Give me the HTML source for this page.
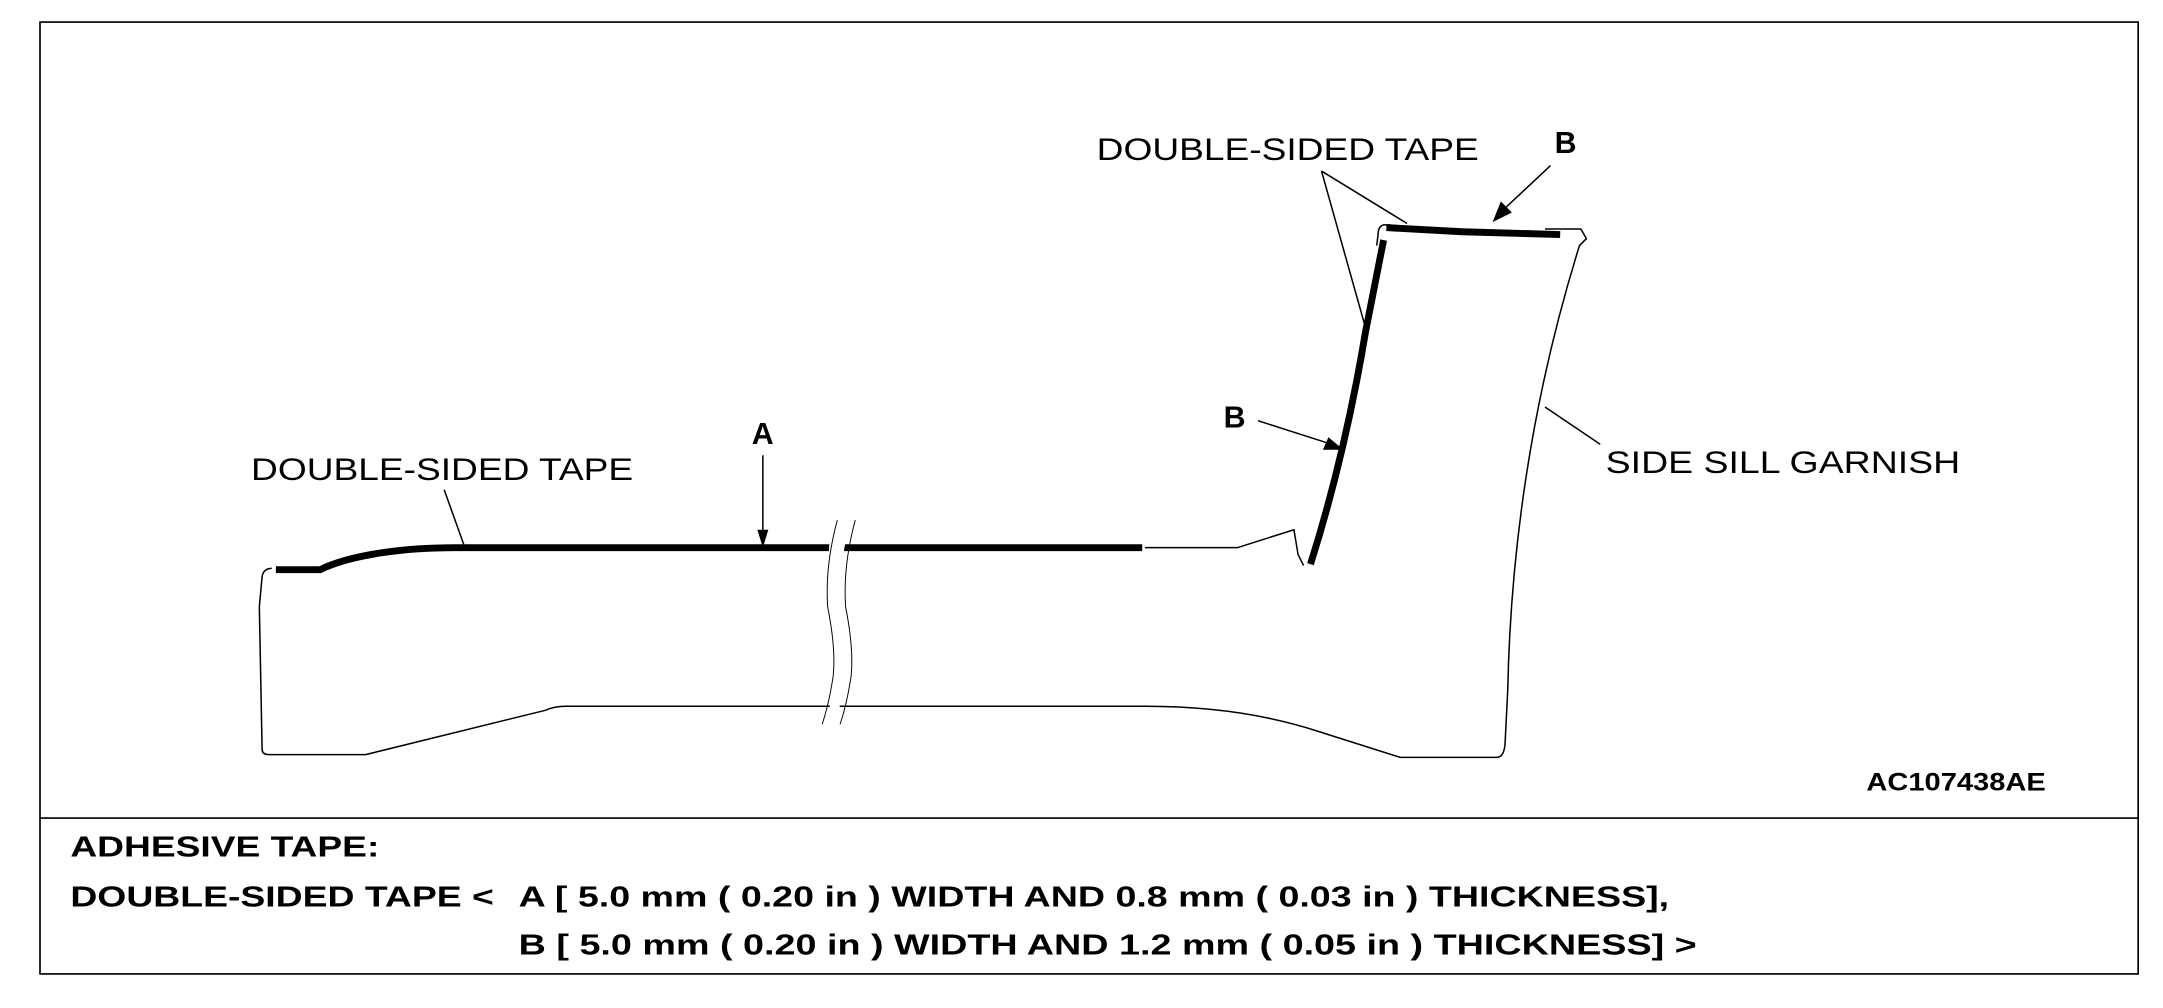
<!DOCTYPE html>
<html><head><meta charset="utf-8"><style>
html,body{margin:0;padding:0;background:#fff;}
svg{display:block;}
text{font-family:"Liberation Sans",Arial,sans-serif;fill:#000;}
</style></head><body>
<svg width="2163" height="1008" viewBox="0 0 1568 730.7" preserveAspectRatio="none" xmlns="http://www.w3.org/2000/svg">
<rect x="29" y="16" width="1521" height="690" fill="none" stroke="#000" stroke-width="1.2"/>
<line x1="29" y1="593" x2="1550" y2="593" stroke="#000" stroke-width="1.2"/>

<g fill="none" stroke="#000" stroke-width="1.1" stroke-linejoin="round">
<path d="M197,412 Q191,412 190,418 L188,440 L190,543 Q190,547 195,547 L265,547 L395,515 Q402,512 410,512 L830,512 Q900,512 955,530 L1015,549 L1085,549 Q1090,549 1091,540 L1093,500 C1095,400 1110,290 1145,178 L1150,173 L1146,166 L1120,166"/>
<path d="M1008,163 L1003,163 Q999,164 999,170 L998,178"/>
<path d="M830,397 L897,397 L938,384 L941,402 L945,410"/>
</g>

<path d="M200,413 L232,413 C250,404 285,397 330,397 L828,397" fill="none" stroke="#000" stroke-width="5"/>
<path d="M1005,165 L1060,168 L1131,170" fill="none" stroke="#000" stroke-width="5"/>
<path d="M1003,174 L990,240 Q975,330 950,409" fill="none" stroke="#000" stroke-width="5"/>

<!-- break -->
<path d="M603,374 L618,374 Q607,410 609,440 Q615,470 613,490 Q610,510 605,525 L598,525 Q603,510 605,490 Q607,470 601,440 Q599,410 603,374 Z" fill="#fff"/>
<g fill="none" stroke="#000" stroke-width="0.7">
<path d="M607,377 Q598,410 600,440 Q606,470 604,490 Q601,510 596,525"/>
<path d="M620,377 Q611,410 613,440 Q619,470 617,490 Q614,510 609,525"/>
</g>

<g fill="none" stroke="#000" stroke-width="1.1">
<line x1="322" y1="355" x2="337" y2="397"/>
<line x1="553" y1="330" x2="553" y2="385"/>
<line x1="958" y1="124" x2="990" y2="238"/>
<line x1="958" y1="124" x2="1020" y2="162"/>
<line x1="1124" y1="120" x2="1092" y2="150"/>
<line x1="912" y1="305" x2="962" y2="321"/>
<line x1="1160" y1="322" x2="1120" y2="295"/>
</g>
<g fill="#000">
<polygon points="553,397 549,384 557,384"/>
<polygon points="1082,161 1088,146 1096,154"/>
<polygon points="974,326 959,326 963,317"/>
</g>

<text x="182" y="348" font-size="23" textLength="277" lengthAdjust="spacingAndGlyphs">DOUBLE-SIDED TAPE</text>
<text x="795" y="116" font-size="23" textLength="277" lengthAdjust="spacingAndGlyphs">DOUBLE-SIDED TAPE</text>
<text x="1164" y="343" font-size="23" textLength="257" lengthAdjust="spacingAndGlyphs">SIDE SILL GARNISH</text>
<text x="545" y="322" font-size="22" font-weight="bold">A</text>
<text x="887" y="310" font-size="22" font-weight="bold">B</text>
<text x="1127" y="111" font-size="22" font-weight="bold">B</text>
<text x="1353" y="573" font-size="18" font-weight="bold" textLength="130" lengthAdjust="spacingAndGlyphs">AC107438AE</text>

<text x="51" y="621" font-size="21" font-weight="bold" textLength="224" lengthAdjust="spacingAndGlyphs">ADHESIVE TAPE:</text>
<text x="51" y="657" font-size="21" font-weight="bold" textLength="307" lengthAdjust="spacingAndGlyphs">DOUBLE-SIDED TAPE &lt;</text>
<text x="376" y="657" font-size="21" font-weight="bold" textLength="834" lengthAdjust="spacingAndGlyphs">A [ 5.0 mm ( 0.20 in ) WIDTH AND 0.8 mm ( 0.03 in ) THICKNESS],</text>
<text x="376" y="692" font-size="21" font-weight="bold" textLength="854" lengthAdjust="spacingAndGlyphs">B [ 5.0 mm ( 0.20 in ) WIDTH AND 1.2 mm ( 0.05 in ) THICKNESS] &gt;</text>
</svg>
</body></html>
